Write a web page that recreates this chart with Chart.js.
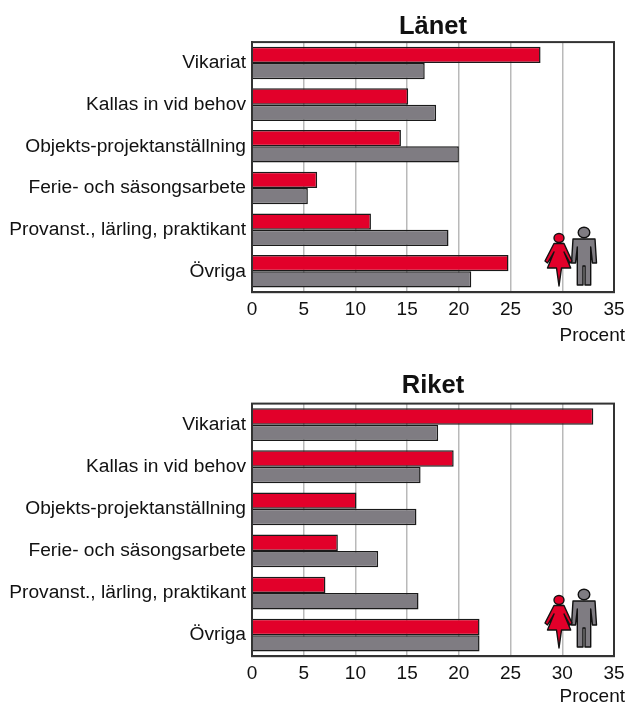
<!DOCTYPE html>
<html>
<head>
<meta charset="utf-8">
<title>Länet och Riket</title>
<script src="https://cdn.jsdelivr.net/npm/chart.js@4"></script>
<style>
    html, body { margin: 0; padding: 0; background: #fff; }
    #page { position: relative; width: 628px; height: 704px; overflow: hidden; }
    .box { position: absolute; left: 0; width: 628px; }
    #box1 { top: 0; height: 350px; }
    #box2 { top: 362px; height: 342px; }
    .people { position: absolute; left: 544px; width: 54px; height: 62px; }
</style>
</head>
<body>
<div id="page">
    <div class="box" id="box1"><canvas id="lanChart"></canvas></div>
    <div class="box" id="box2"><canvas id="riketChart"></canvas></div>
    <svg class="people" style="top:226px" viewBox="0 0 54 62"><use href="#pair"/></svg>
    <svg class="people" style="top:588px" viewBox="0 0 54 62"><use href="#pair"/></svg>
    <svg width="0" height="0" style="position:absolute">
        <defs>
            <g id="pair" stroke="#111" stroke-width="1.4" stroke-linejoin="round">
                <ellipse cx="40" cy="6.500" rx="5.800" ry="5.300" fill="#7f7c82"/>
                <path fill="#7f7c82" d="M29 13H51L52.500 37H48.500L46.700 21V59H41V40H39V59H33.300V21L31.500 37H27.500Z"/>
                <ellipse cx="15" cy="12" rx="5" ry="4.500" fill="#e2002a"/>
                <path fill="#e2002a" d="M10 17.500H20L28 35L26 37L20 26L26.700 42H17.500L15 60L12.500 42H3.500L10 26L3.500 37L1 35Z"/>
            </g>
        </defs>
    </svg>
</div>
<script>
// data
const categories = ['Vikariat', 'Kallas in vid behov', 'Objekts-projektanställning', 'Ferie- och säsongsarbete', 'Provanst., lärling, praktikant', 'Övriga'];
const lan_women = [27.9, 15.1, 14.4, 6.3, 11.5, 24.8];
const lan_men = [16.7, 17.8, 20.0, 5.4, 19.0, 21.2];
const riket_women = [33.0, 19.5, 10.1, 8.3, 7.1, 22.0];
const riket_men = [18.0, 16.3, 15.9, 12.2, 16.1, 22.0];
const x_title = 'Procent';

const font_name = '"Liberation Sans", Arial, sans-serif';

function makeChart(id, title, women, men, pad, title_pad, title_offset){
    const ctx = document.getElementById(id).getContext('2d');
    return new Chart(ctx, {
        type: 'bar',
        data: {
            labels: categories,
            datasets: [{
                label: 'Kvinnor',
                data: women,
                backgroundColor: '#e2002a',
                borderColor: '#1a1a1a',
                borderWidth: 1.5
            }, {
                label: 'Män',
                data: men,
                backgroundColor: '#7f7c82',
                borderColor: '#1a1a1a',
                borderWidth: 1.5
            }]
        },
        options: {
            indexAxis: 'y',
            responsive: true,
            maintainAspectRatio: false,
            animation: false,
            categoryPercentage: 0.78,
            barPercentage: 1,
            layout: { padding: pad },
            scales: {
                x: {
                    min: 0,
                    max: 35,
                    // låt inte 35-etiketten trycka in plotytan
                    afterFit: function(scale){ scale.paddingLeft = 0; scale.paddingRight = 0; },
                    ticks: { stepSize: 5, color: '#111', font: { family: font_name, size: 19 }, padding: 6, maxRotation: 0 },
                    grid: { color: '#b9b9b9', lineWidth: 1.5, drawTicks: false },
                    border: { color: '#333', width: 2 }
                },
                y: {
                    afterFit: function(scale){ scale.width = 252; scale.paddingTop = 0; scale.paddingBottom = 0; },
                    ticks: { color: '#111', font: { family: font_name, size: 19.2 }, padding: 6 },
                    grid: { display: false, drawTicks: false },
                    border: { color: '#333', width: 2 }
                }
            },
            plugins: {
                legend: { display: false },
                title: {
                    display: true,
                    fullSize: false,
                    text: title,
                    color: '#111',
                    font: { family: font_name, size: 25.5, weight: 'bold' },
                    padding: { top: 0, bottom: title_pad }
                },
                tooltip: { enabled: false }
            }
        },
        plugins: [{
            // ram runt plot + Procent utanför högerkanten
            id: 'frame',
            afterDatasetsDraw: function(chart){
                const a = chart.chartArea, c = chart.ctx;
                c.save();
                c.strokeStyle = '#333';
                c.lineWidth = 2;
                c.strokeRect(a.left, a.top, a.right - a.left, a.bottom - a.top);
                c.fillStyle = '#111';
                c.font = '19px ' + font_name;
                c.textAlign = 'right';
                c.textBaseline = 'middle';
                c.fillText(x_title, a.right + 11, a.bottom + title_offset);
                c.restore();
            }
        }]
    });
}

makeChart('lanChart', 'Länet', lan_women, lan_men, { top: 11.5, right: 14, bottom: 23 }, 0, 44);
makeChart('riketChart', 'Riket', riket_women, riket_men, { top: 9, right: 14, bottom: 13 }, 2, 41);
</script>
</body>
</html>
